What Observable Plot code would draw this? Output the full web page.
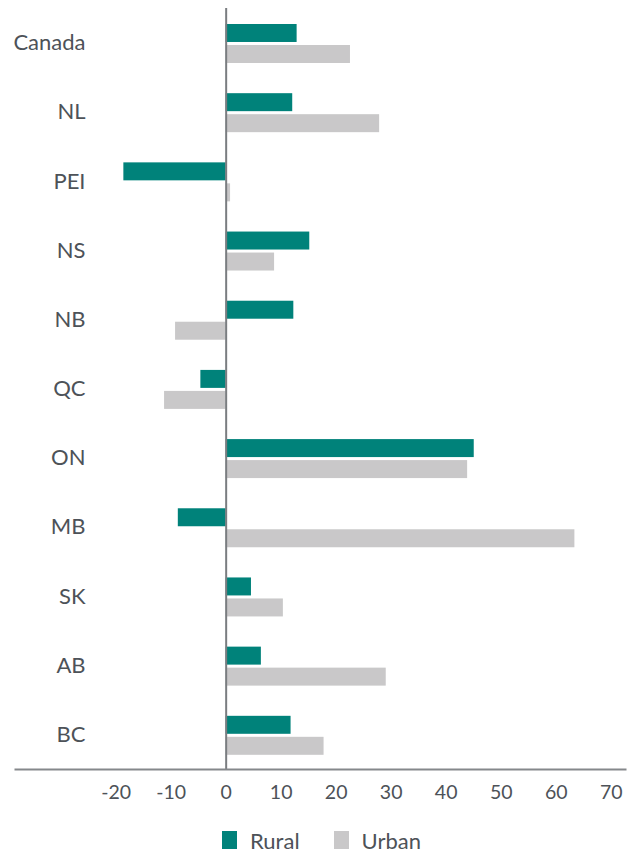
<!DOCTYPE html>
<html>
<head>
<meta charset="utf-8">
<script src="https://cdn.jsdelivr.net/npm/d3@7"></script>
<script src="https://cdn.jsdelivr.net/npm/@observablehq/plot@0.6"></script>
<style>
  body { margin: 0; background: #fff; font-family: Lato, "Open Sans", sans-serif; }
  #chart svg { display: block; }
  .legend { display: flex; justify-content: center; align-items: center; height: 30px; margin-top: 11px; margin-left: 8px;
            font-family: Lato, sans-serif; font-size: 22px; color: #4d5258; }
  .legend .item { display: flex; align-items: center; }
  .legend .sw { width: 15px; height: 18px; margin-right: 13px; }
  .legend .item + .item { margin-left: 34px; }
</style>
</head>
<body>
<div id="chart"></div>
<div class="legend">
  <div class="item"><span class="sw" style="background:#00827A"></span><span>Rural</span></div>
  <div class="item"><span class="sw" style="background:#C9C8C9"></span><span>Urban</span></div>
</div>
<script>
const categories = ["Canada","NL","PEI","NS","NB","QC","ON","MB","SK","AB","BC"];
const rural = [12.9, 12.1, -18.6, 15.2, 12.3, -4.6, 45.1, -8.7, 4.6, 6.4, 11.8];
const urban = [22.6, 27.9, 0.8, 8.8, -9.2, -11.2, 43.9, 63.4, 10.4, 29.1, 17.8];
const xTicks = [-20, -10, 0, 10, 20, 30, 40, 50, 60, 70];

const ruralData = categories.map((c, i) => ({category: c, value: rural[i]}));
const urbanData = categories.map((c, i) => ({category: c, value: urban[i]}));

const textColor = "#4d5258";

const chart = Plot.plot({
  width: 635,
  height: 814,
  marginTop: 8,
  marginBottom: 45,
  marginLeft: 15,
  marginRight: 10,
  style: {fontFamily: "Lato, sans-serif", color: textColor, background: "#fff"},
  x: {domain: [-38.3, 72.6]},
  y: {domain: categories, padding: 0, round: false},
  marks: [
    Plot.barX(ruralData, {x: "value", y: "category", fill: "#00827A", insetTop: 16, insetBottom: 35.2}),
    Plot.barX(urbanData, {x: "value", y: "category", fill: "#C9C8C9", insetTop: 37, insetBottom: 14.2}),
    Plot.ruleX([0], {stroke: "#7a7d80", strokeWidth: 2}),
    Plot.frame({anchor: "bottom", stroke: "#85888b", strokeWidth: 2}),
    Plot.axisX({ticks: xTicks, tickSize: 0, tickPadding: 16, label: null, fontSize: 19.5, tickFormat: d => String(d), fill: textColor}),
    Plot.axisY({tickSize: 0, tickPadding: 0, dx: 70, textAnchor: "end", label: null, fontSize: 22, fill: textColor})
  ]
});
document.getElementById("chart").appendChild(chart);
</script>
</body>
</html>
